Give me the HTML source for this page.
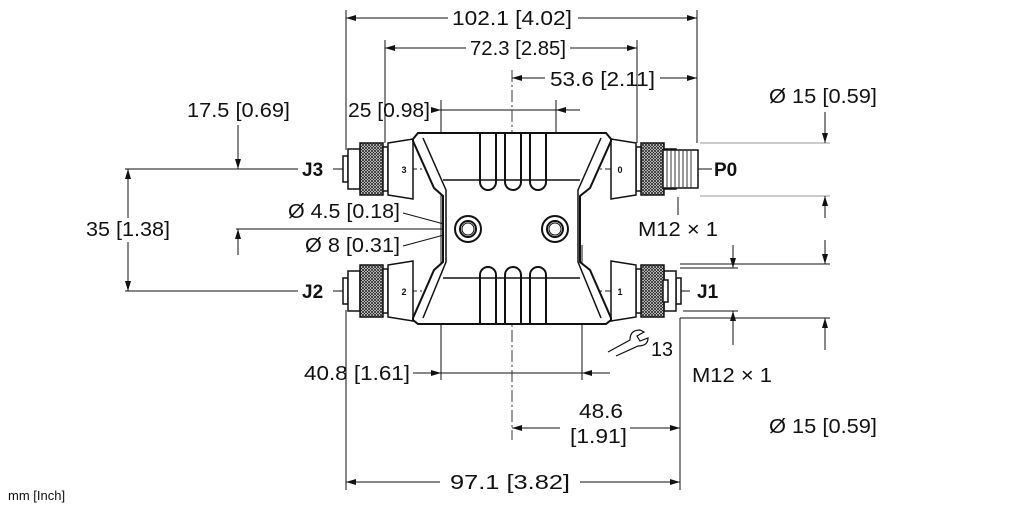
<!DOCTYPE html>
<html><head><meta charset="utf-8"><style>
html,body{margin:0;padding:0;background:#fff;}
svg{display:block;font-family:"Liberation Sans",sans-serif;}
</style></head><body>
<svg width="1022" height="511" viewBox="0 0 1022 511" xmlns="http://www.w3.org/2000/svg">
<defs>
<marker id="a" viewBox="0 0 10 6" refX="10" refY="3" markerWidth="14" markerHeight="6" markerUnits="userSpaceOnUse" orient="auto"><path d="M0,0 L10,3 L0,6 z" fill="#111"/></marker>
<pattern id="k" width="3" height="3" patternUnits="userSpaceOnUse"><rect width="3" height="3" fill="#fff"/><path d="M0,0L3,3M3,0L0,3" stroke="#222" stroke-width="0.8"/></pattern>
<g id="conL">
<rect x="343" y="-13" width="5" height="26" fill="#fff" stroke="#111" stroke-width="1.5"/>
<rect x="348" y="-20" width="12" height="40" fill="#fff" stroke="#111" stroke-width="1.5"/>
<rect x="360" y="-26" width="23" height="52" fill="url(#k)" stroke="#111" stroke-width="1.5"/>
<rect x="383" y="-22" width="5" height="44" fill="#fff" stroke="#111" stroke-width="1.5"/>
<path d="M388,-26 L413,-30 L413,30 L388,26 z" fill="#fff" stroke="#111" stroke-width="1.5"/>
</g>
</defs>
<g stroke="#111" stroke-width="1" fill="none">
<line x1="346" y1="10" x2="346" y2="150"/><line x1="697" y1="10" x2="697" y2="143"/>
<line x1="385" y1="40" x2="385" y2="143"/><line x1="637" y1="40" x2="637" y2="143"/>
<line x1="441" y1="100" x2="441" y2="380"/><line x1="556" y1="100" x2="556" y2="215"/>
<line x1="582" y1="245" x2="582" y2="380"/>
<line x1="346" y1="310" x2="346" y2="490"/><line x1="680" y1="318" x2="680" y2="490"/>
<line x1="125" y1="169" x2="298" y2="169"/><line x1="125" y1="291" x2="298" y2="291"/>
<line x1="236" y1="229" x2="455" y2="229"/>
<line x1="700" y1="143" x2="830" y2="143" stroke="#999"/><line x1="700" y1="196" x2="830" y2="196" stroke="#999"/>
<line x1="680" y1="264" x2="830" y2="264"/><line x1="680" y1="318" x2="830" y2="318"/>
<line x1="680" y1="268" x2="738" y2="268"/><line x1="683" y1="311" x2="738" y2="311"/>
<line x1="678" y1="197" x2="678" y2="215"/>
<line x1="578" y1="18" x2="697" y2="18" marker-end="url(#a)"/><line x1="448" y1="18" x2="346" y2="18" marker-end="url(#a)"/>
<line x1="570" y1="48" x2="637" y2="48" marker-end="url(#a)"/><line x1="466" y1="48" x2="385" y2="48" marker-end="url(#a)"/>
<line x1="660" y1="78" x2="697" y2="78" marker-end="url(#a)"/><line x1="545" y1="78" x2="512" y2="78" marker-end="url(#a)"/>
<line x1="434" y1="110" x2="441" y2="110" marker-end="url(#a)"/><line x1="580" y1="110" x2="556" y2="110" marker-end="url(#a)"/>
<line x1="441" y1="110" x2="556" y2="110"/>
<line x1="238" y1="125" x2="238" y2="169" marker-end="url(#a)"/><line x1="238" y1="255" x2="238" y2="229" marker-end="url(#a)"/>
<line x1="128" y1="218" x2="128" y2="169" marker-end="url(#a)"/><line x1="128" y1="242" x2="128" y2="291" marker-end="url(#a)"/>
<line x1="825" y1="112" x2="825" y2="143" marker-end="url(#a)"/><line x1="825" y1="218" x2="825" y2="196" marker-end="url(#a)"/>
<line x1="825" y1="240" x2="825" y2="264" marker-end="url(#a)"/><line x1="825" y1="350" x2="825" y2="318" marker-end="url(#a)"/>
<line x1="733" y1="245" x2="733" y2="268" marker-end="url(#a)"/><line x1="733" y1="345" x2="733" y2="311" marker-end="url(#a)"/>
<line x1="413" y1="373" x2="441" y2="373" marker-end="url(#a)"/><line x1="610" y1="373" x2="582" y2="373" marker-end="url(#a)"/>
<line x1="441" y1="373" x2="582" y2="373"/>
<line x1="560" y1="428" x2="512" y2="428" marker-end="url(#a)"/><line x1="630" y1="428" x2="680" y2="428" marker-end="url(#a)"/>
<line x1="440" y1="482" x2="346" y2="482" marker-end="url(#a)"/><line x1="580" y1="482" x2="680" y2="482" marker-end="url(#a)"/>
<line x1="403" y1="213" x2="455" y2="227"/><line x1="403" y1="246" x2="455" y2="232"/>
<line x1="333" y1="169" x2="343" y2="169"/><line x1="333" y1="291" x2="343" y2="291"/>
<line x1="698" y1="169" x2="712" y2="169"/><line x1="678" y1="291" x2="690" y2="291"/>
</g>
<g stroke="#222" stroke-width="0.9" stroke-dasharray="12,3,2,3" fill="none">
<line x1="512" y1="70" x2="512" y2="440"/>
<line x1="345" y1="169" x2="690" y2="169"/><line x1="345" y1="291" x2="680" y2="291"/>
<line x1="441" y1="229" x2="490" y2="229"/><line x1="530" y1="229" x2="580" y2="229"/>
<line x1="468" y1="195" x2="468" y2="255"/><line x1="555" y1="195" x2="555" y2="255"/>
</g>
<use href="#conL" y="169"/><use href="#conL" y="291"/>
<use href="#conL" transform="translate(1024,169) scale(-1,1)"/>
<g transform="translate(1024,291) scale(-1,1)"><use href="#conL"/></g>
<rect x="663" y="150" width="35" height="38" fill="#fff" stroke="#111" stroke-width="1.5"/>
<g stroke="#333" stroke-width="1"><line x1="667" y1="150" x2="667" y2="188"/><line x1="671" y1="150" x2="671" y2="188"/><line x1="675" y1="150" x2="675" y2="188"/><line x1="679" y1="150" x2="679" y2="188"/><line x1="683" y1="150" x2="683" y2="188"/><line x1="687" y1="150" x2="687" y2="188"/><line x1="691" y1="150" x2="691" y2="188"/></g>
<rect x="663" y="280" width="5" height="22" fill="#fff" stroke="#111" stroke-width="1.5"/>
<path d="M413,139 L418,133 L606,133 L611,139 L611,141 L590,188 L580,196 L580,262 L590,270 L611,318 L611,320 L606,324 L418,324 L413,320 L413,318 L434,270 L443,262 L443,196 L434,188 L413,141 z" fill="#fff" stroke="#111" stroke-width="2"/>
<path d="M423,138 L446,190 L446,262 L423,318 M601,138 L578,190 L578,262 L601,318" fill="none" stroke="#111" stroke-width="1.5"/>
<line x1="443" y1="180" x2="580" y2="180" stroke="#111" stroke-width="1.5"/>
<line x1="443" y1="278" x2="580" y2="278" stroke="#111" stroke-width="1.5"/>
<g fill="none" stroke="#111" stroke-width="2">
<path d="M480,134 V182 a8,8 0 0 0 16,0 V134"/><path d="M505,134 V182 a8,8 0 0 0 16,0 V134"/><path d="M530,134 V182 a8,8 0 0 0 16,0 V134"/>
<path d="M480,323 V275 a8,8 0 0 1 16,0 V323"/><path d="M505,323 V275 a8,8 0 0 1 16,0 V323"/><path d="M530,323 V275 a8,8 0 0 1 16,0 V323"/>
<circle cx="468" cy="229" r="13"/><circle cx="468" cy="229" r="8"/><circle cx="468" cy="229" r="6" stroke-width="1"/>
<circle cx="555" cy="229" r="13"/><circle cx="555" cy="229" r="8"/><circle cx="555" cy="229" r="6" stroke-width="1"/>
</g>
<g font-size="9" font-weight="bold" fill="#111" text-anchor="middle"><text x="404" y="173">3</text><text x="404" y="295">2</text><text x="620" y="173">0</text><text x="620" y="295">1</text></g>
<path d="M608,352 L630,340 Q630,330 640,330 L644,332 L637,336 L640,341 L648,338 Q648,346 638,346 L616,356" fill="none" stroke="#111" stroke-width="1.2"/>
<g font-size="20" fill="#111">
<text x="452" y="25" textLength="120" lengthAdjust="spacingAndGlyphs">102.1 [4.02]</text>
<text x="470" y="55" textLength="96" lengthAdjust="spacingAndGlyphs">72.3 [2.85]</text>
<text x="550" y="86" textLength="105" lengthAdjust="spacingAndGlyphs">53.6 [2.11]</text>
<text x="348" y="117" textLength="82" lengthAdjust="spacingAndGlyphs">25 [0.98]</text>
<text x="187" y="117" textLength="103" lengthAdjust="spacingAndGlyphs">17.5 [0.69]</text>
<text x="86" y="236" textLength="84" lengthAdjust="spacingAndGlyphs">35 [1.38]</text>
<text x="288" y="218" textLength="112" lengthAdjust="spacingAndGlyphs">Ø 4.5 [0.18]</text>
<text x="305" y="252" textLength="95" lengthAdjust="spacingAndGlyphs">Ø 8 [0.31]</text>
<text x="769" y="103" textLength="108" lengthAdjust="spacingAndGlyphs">Ø 15 [0.59]</text>
<text x="638" y="236" textLength="80" lengthAdjust="spacingAndGlyphs">M12 × 1</text>
<text x="692" y="382" textLength="80" lengthAdjust="spacingAndGlyphs">M12 × 1</text>
<text x="769" y="433" textLength="108" lengthAdjust="spacingAndGlyphs">Ø 15 [0.59]</text>
<text x="304" y="380" textLength="106" lengthAdjust="spacingAndGlyphs">40.8 [1.61]</text>
<text x="579" y="418" textLength="44" lengthAdjust="spacingAndGlyphs">48.6</text>
<text x="570" y="443" textLength="57" lengthAdjust="spacingAndGlyphs">[1.91]</text>
<text x="450" y="489" textLength="120" lengthAdjust="spacingAndGlyphs">97.1 [3.82]</text>
<text x="651" y="356" textLength="22" lengthAdjust="spacingAndGlyphs">13</text>
</g>
<g font-size="19" font-weight="bold" fill="#111">
<text x="302" y="176">J3</text><text x="302" y="298">J2</text><text x="714" y="176">P0</text><text x="697" y="298">J1</text>
</g>
<text x="8" y="500" font-size="13" fill="#111">mm [Inch]</text>
</svg>
</body></html>
